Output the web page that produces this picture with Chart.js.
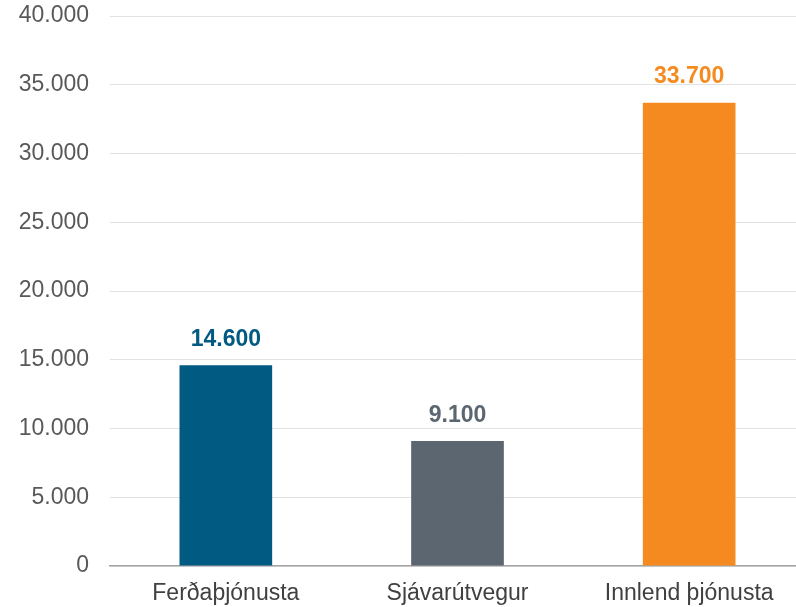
<!doctype html>
<html>
<head>
  <meta charset="utf-8">
  <title>Bar</title>
  <script src="https://cdn.jsdelivr.net/npm/chart.js@4/dist/chart.umd.min.js"></script>
  <style>
    html, body { margin: 0; padding: 0; overflow: hidden; background: #fff; }
    #container { width: 805px; height: 607px; }
  </style>
</head>
<body>
<div id="container">
  <canvas id="canvas" width="805" height="607"></canvas>
</div>
<script>
  var categories = ['Ferðaþjónusta', 'Sjávarútvegur', 'Innlend þjónusta'];
  var values = [14600, 9100, 33700];
  var barColors = ['#015a82', '#5b6670', '#f58b20'];
  var yTicks = [0, 5000, 10000, 15000, 20000, 25000, 30000, 35000, 40000];

  function fmt(v) {
    return String(v).replace(/\B(?=(\d{3})+(?!\d))/g, '.');
  }

  var FONT = "'Liberation Sans', Arial, sans-serif";

  var barLabels = {
    id: 'barLabels',
    afterDatasetsDraw: function (chart) {
      var ctx = chart.ctx;
      var meta = chart.getDatasetMeta(0);
      ctx.save();
      ctx.font = 'bold 23px ' + FONT;
      ctx.textAlign = 'center';
      ctx.textBaseline = 'bottom';
      meta.data.forEach(function (bar, i) {
        ctx.fillStyle = barColors[i];
        ctx.fillText(fmt(values[i]), bar.x, bar.y - 14);
      });
      ctx.restore();
    }
  };

  window.onload = function () {
    var ctx = document.getElementById('canvas').getContext('2d');
    window.myBar = new Chart(ctx, {
      type: 'bar',
      data: {
        labels: categories,
        datasets: [{
          data: values,
          backgroundColor: barColors,
          borderWidth: 0,
          categoryPercentage: 1,
          barPercentage: 0.4
        }]
      },
      plugins: [barLabels],
      options: {
        responsive: false,
        animation: false,
        layout: { padding: { top: 16, right: 0, bottom: 0, left: 0 } },
        plugins: {
          legend: { display: false },
          tooltip: { enabled: false }
        },
        scales: {
          x: {
            afterFit: function (scale) { scale.height = 41; },
            grid: { display: false, drawTicks: false },
            border: { display: true, color: '#a6a6a6', width: 1.5 },
            ticks: {
              padding: 14,
              color: '#404040',
              font: { family: FONT, size: 23 }
            }
          },
          y: {
            min: 0,
            max: 40000,
            afterFit: function (scale) {
              scale.width = 110;
              scale.paddingTop = 0;
              scale.paddingBottom = 0;
            },
            afterBuildTicks: function (scale) {
              scale.ticks = yTicks.map(function (v) { return { value: v }; });
            },
            grid: { color: '#e2e2e2', lineWidth: 1, drawTicks: false },
            border: { display: false },
            ticks: {
              padding: 21,
              color: '#595959',
              font: { family: FONT, size: 23 },
              callback: function (v) { return fmt(v); }
            }
          }
        }
      }
    });
  };
</script>
</body>
</html>
